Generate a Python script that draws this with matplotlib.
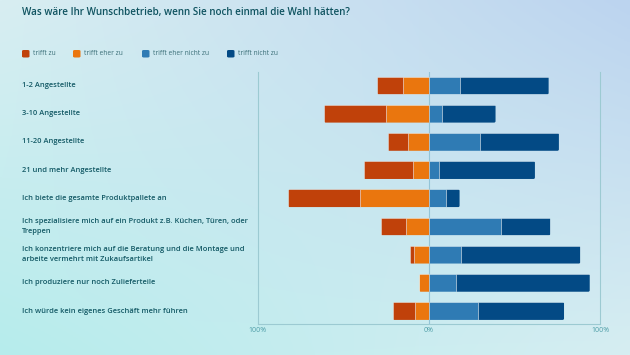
import numpy as np
import matplotlib.pyplot as plt
from matplotlib.transforms import blended_transform_factory
from matplotlib.patches import FancyBboxPatch

plt.rcParams['font.family'] = ['Open Sans', 'DejaVu Sans']

categories = [
    "1-2 Angestellte",
    "3-10 Angestellte",
    "11-20 Angestellte",
    "21 und mehr Angestellte",
    "Ich biete die gesamte Produktpallete an",
    "Ich spezialisiere mich auf ein Produkt z.B. Küchen, Türen, oder\nTreppen",
    "Ich konzentriere mich auf die Beratung und die Montage und\narbeite vermehrt mit Zukaufsartikel",
    "Ich produziere nur noch Zulieferteile",
    "Ich würde kein eigenes Geschäft mehr führen",
]
trifft_zu = [15, 36, 12, 29, 42, 15, 2.5, 0, 13]
trifft_eher_zu = [15, 25, 12, 9, 40, 13, 8.5, 5.5, 8]
trifft_eher_nicht_zu = [18, 8, 30, 6, 10, 42, 19, 16, 29]
trifft_nicht_zu = [52, 31, 46, 56, 8, 29, 69.5, 78, 50]

series_names = ["trifft zu", "trifft eher zu", "trifft eher nicht zu", "trifft nicht zu"]
colors = ["#c0410a", "#ea760e", "#2f7bb4", "#034a85"]

W, H = 630, 355
fig = plt.figure(figsize=(W / 100, H / 100), dpi=100)

# background gradient (bilinear between corner colours)
bg = fig.add_axes([0, 0, 1, 1])
corners = {
    "tl": np.array([0xd8, 0xee, 0xf2]) / 255,
    "tr": np.array([0xbc, 0xd4, 0xef]) / 255,
    "bl": np.array([0xb6, 0xec, 0xec]) / 255,
    "br": np.array([0xd6, 0xee, 0xf2]) / 255,
}
u = np.linspace(0, 1, 200)[None, :, None]
v = np.linspace(0, 1, 120)[:, None, None]
top = corners["tl"] * (1 - u) + corners["tr"] * u
bot = corners["bl"] * (1 - u) + corners["br"] * u
img = top * (1 - v) + bot * v
bg.imshow(img, aspect='auto', extent=[0, 1, 0, 1], origin='upper')
bg.set_axis_off()

# plot axes
x0, x1 = 257.5 / W, 600 / W
ytop, ybot = 72 / H, 324 / H
ax = fig.add_axes([x0, 1 - ybot, x1 - x0, ybot - ytop])
ax.patch.set_alpha(0)

n = len(categories)
y = np.arange(n)
tz = np.array(trifft_zu)
tez = np.array(trifft_eher_zu)
tenz = np.array(trifft_eher_nicht_zu)
tnz = np.array(trifft_nicht_zu)

bh = 0.63
kw = dict(height=bh, edgecolor=(1, 1, 1, 0.5), linewidth=0.5)
b1 = ax.barh(y, -tez, left=0, color=colors[1], **kw)
b0 = ax.barh(y, -tz, left=-tez, color=colors[0], **kw)
b2 = ax.barh(y, tenz, left=0, color=colors[2], **kw)
b3 = ax.barh(y, tnz, left=tenz, color=colors[3], **kw)

# rounded outer corners: clip every segment of a row to a rounded box
px_x = (x1 - x0) * W / 200.0
px_y = (ybot - ytop) * H / 8.94
for i in range(n):
    lo = -(tz[i] + tez[i])
    hi = tenz[i] + tnz[i]
    clip = FancyBboxPatch((lo, i - bh / 2), hi - lo, bh,
                          boxstyle="round,pad=0,rounding_size=%f" % (1.5 / px_x),
                          mutation_aspect=px_x / px_y,
                          facecolor='none', edgecolor='none', transform=ax.transData)
    ax.add_patch(clip)
    for bars in (b0, b1, b2, b3):
        bars[i].set_clip_path(clip)

ax.axvline(0, color="#93c4d8", linewidth=0.8, zorder=0)
ax.set_xlim(-100, 100)
ax.set_ylim(8.46, -0.48)

ax.spines["top"].set_visible(False)
for side in ["left", "right", "bottom"]:
    ax.spines[side].set_color("#9ccad2")
    ax.spines[side].set_linewidth(0.8)

ax.set_yticks([])
ax.set_xticks([-100, 0, 100])
ax.set_xticklabels(["100%", "0%", "100%"], fontsize=5, color="#4f9ea8")
ax.tick_params(axis='x', length=0, pad=2)

# category labels, left aligned in figure coordinates
tr = blended_transform_factory(fig.transFigure, ax.transData)
for i, c in enumerate(categories):
    ax.text(22 / W, i, c, transform=tr, ha='left', va='center', fontsize=5.4,
            color="#145a66", fontweight='semibold', linespacing=1.65)

# title
fig.text(22 / W, 1 - 12 / H, "Was wäre Ihr Wunschbetrieb, wenn Sie noch einmal die Wahl hätten?",
         ha='left', va='center', fontsize=7.1, color="#0f5360", fontweight='semibold')

# legend
leg_x = [22, 73, 142, 227]
for lx, name, col in zip(leg_x, series_names, colors):
    fig.patches.append(FancyBboxPatch((lx / W, 1 - 57.5 / H), 7.5 / W, 7.5 / H,
                                      boxstyle="round,pad=0,rounding_size=0.003",
                                      transform=fig.transFigure, facecolor=col, edgecolor='none'))
    fig.text((lx + 11) / W, 1 - 53.5 / H, name, ha='left', va='center', fontsize=4.8, color="#3b6f78")

fig.savefig("out.png", dpi=100)
